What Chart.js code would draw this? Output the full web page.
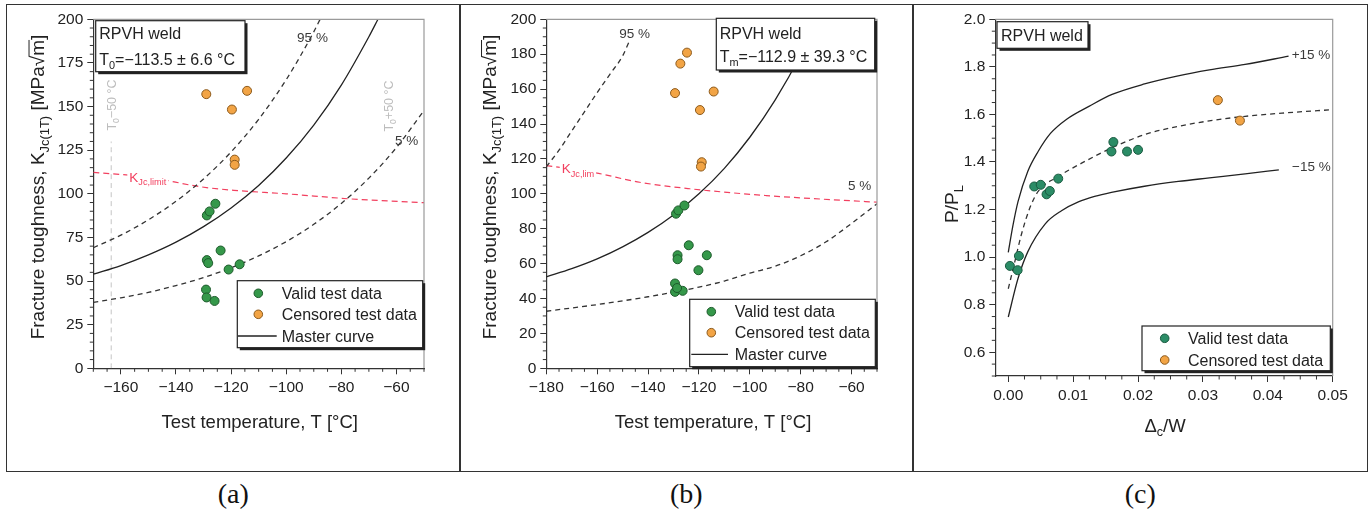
<!DOCTYPE html>
<html>
<head>
<meta charset="utf-8">
<script src="https://cdn.jsdelivr.net/npm/chart.js@4.4.1/dist/chart.umd.min.js"></script>
<style>
  html, body { margin:0; padding:0; background:#fff; }
  body { width:1370px; height:514px; position:relative; overflow:hidden; }
  .frame { position:absolute; left:6px; top:4px; width:1362px; height:468px; border:1.6px solid #333; box-sizing:border-box; }
  .divider { position:absolute; top:4px; height:468px; width:1.6px; background:#333; }
  canvas { position:absolute; }
  .cap { position:absolute; top:476px; width:120px; text-align:center; font-family:"Liberation Serif","Times New Roman",serif; font-size:28px; line-height:36px; color:#111; }
</style>
</head>
<body>
<div class="frame"></div>
<div class="divider" style="left:459px"></div>
<div class="divider" style="left:912.4px"></div>
<canvas id="ca" width="451" height="463" style="left:8px;top:6px"></canvas>
<canvas id="cb" width="451" height="463" style="left:461px;top:6px"></canvas>
<canvas id="cc" width="451" height="463" style="left:914px;top:6px"></canvas>
<div class="cap" id="capA" style="left:173.3px"></div>
<div class="cap" id="capB" style="left:626.3px"></div>
<div class="cap" id="capC" style="left:1080.3px"></div>
<script>
// ================= DATA =================
// ---- Panel (a): Master curve, T0 = -113.5 °C ----
const tempTicksA = [-160, -140, -120, -100, -80, -60];
const kTicksA = [0, 25, 50, 75, 100, 125, 150, 175, 200];
const validTempA = [-128.8, -127.8, -125.7, -123.8, -128.8, -128.3, -120.9, -116.9, -129.1, -128.9, -126.0];
const validKA    = [87.6, 89.9, 94.3, 67.5, 62.0, 60.3, 56.6, 59.6, 45.1, 40.6, 38.6];
const censTempA  = [-129.0, -119.7, -114.2, -118.7, -118.7];
const censKA     = [157.1, 148.3, 159.0, 119.6, 116.6];
const masterTempA = [-170, -160, -150, -140, -130, -120, -110, -100, -90, -80, -70, -66.7];
const masterKA    = [53.9, 58.9, 65.0, 72.3, 81.2, 91.9, 104.8, 120.5, 139.4, 162.3, 190.0, 200];
const p95TempA = [-170, -160, -150, -140, -130, -120, -110, -100, -90, -87.7];
const p95KA    = [69.1, 76.3, 85.1, 95.7, 108.5, 124.0, 142.7, 165.4, 192.8, 200];
const p5TempA  = [-170, -160, -150, -140, -130, -120, -110, -100, -90, -80, -70, -60, -50];
const p5KA     = [37.8, 40.4, 43.5, 47.4, 52.0, 57.6, 64.4, 72.6, 82.5, 94.5, 109.0, 126.5, 147.7];
const limTempA = [-170, -150, -131, -119, -100, -77, -50];
const limKA    = [112.3, 109.5, 104.0, 102.0, 100.0, 97.1, 94.9];
const t0Minus50A = [-163.5, -163.5];
const t0LineKA   = [0, 130];

// ---- Panel (b): Tm = -112.9 °C ----
const tempTicksB = [-180, -160, -140, -120, -100, -80, -60];
const kTicksB = [0, 20, 40, 60, 80, 100, 120, 140, 160, 180, 200];
const validTempB = [-129.0, -128.1, -125.7, -124.0, -128.4, -128.4, -116.9, -120.2, -129.4, -129.4, -126.4, -128.6];
const validKB    = [88.6, 90.5, 93.3, 70.5, 64.8, 62.5, 64.8, 56.2, 48.6, 43.8, 44.4, 46.0];
const censTempB  = [-124.7, -127.3, -129.4, -114.2, -119.6, -118.9, -119.2];
const censKB     = [180.9, 174.6, 157.7, 158.6, 148.0, 118.1, 115.6];
const masterTempB = [-180, -170, -160, -150, -140, -130, -120, -110, -100, -90, -80, -73.5];
const masterKB    = [52.4, 57.1, 62.7, 69.6, 77.9, 87.9, 100.0, 114.6, 132.4, 153.8, 179.7, 200];
const p95TempB = [-180, -175, -170, -165, -160, -155, -150, -147.5];
const p95KB    = [115.5, 125.0, 136.0, 147.0, 158.0, 168.5, 179.0, 187.0];
const p5TempB  = [-180, -160, -140, -120, -110, -100, -90, -80, -70, -60, -50];
const p5KB     = [32.7, 36.5, 41.0, 46.5, 50.0, 54.5, 58.5, 64.5, 72.5, 83.0, 94.3];
const limTempB = [-180, -161.6, -143.3, -123.6, -93.6, -67.5, -50];
const limKB    = [116.2, 112.3, 106.6, 102.9, 99.0, 96.6, 95.2];

// ---- Panel (c): P/PL vs Δc/W ----
const dTicksC = [0, 0.01, 0.02, 0.03, 0.04, 0.05];
const pTicksC = [0.6, 0.8, 1.0, 1.2, 1.4, 1.6, 1.8, 2.0];
const validDC = [0.00025, 0.00144, 0.00164, 0.0040, 0.0050, 0.0059, 0.0064, 0.0077, 0.0159, 0.0162, 0.0183, 0.0200];
const validPC = [0.963, 0.945, 1.005, 1.297, 1.304, 1.264, 1.278, 1.330, 1.444, 1.484, 1.444, 1.451];
const censDC  = [0.0323, 0.0357];
const censPC  = [1.660, 1.574];
const upperDC = [0, 0.0007, 0.0015, 0.003, 0.0046, 0.0065, 0.009, 0.0125, 0.016, 0.021, 0.026, 0.031, 0.0365, 0.0432];
const upperPC = [1.02, 1.13, 1.233, 1.36, 1.444, 1.52, 1.58, 1.635, 1.684, 1.728, 1.761, 1.787, 1.81, 1.845];
const midDC   = [0, 0.001, 0.002, 0.0033, 0.0046, 0.0077, 0.0113, 0.016, 0.021, 0.0262, 0.0315, 0.0365, 0.043, 0.05];
const midPC   = [0.867, 0.98, 1.093, 1.205, 1.276, 1.339, 1.395, 1.46, 1.515, 1.55, 1.575, 1.592, 1.607, 1.62];
const lowerDC = [0, 0.0015, 0.003, 0.0057, 0.0082, 0.0108, 0.0133, 0.0159, 0.021, 0.0262, 0.031, 0.0365, 0.0417];
const lowerPC = [0.748, 0.91, 1.022, 1.14, 1.195, 1.232, 1.255, 1.272, 1.298, 1.318, 1.333, 1.35, 1.367];

const legendLabels = ['Valid test data', 'Censored test data', 'Master curve'];
const captions = ['(a)', '(b)', '(c)'];

// ================= HELPERS =================
const FAM = '"Liberation Sans", Arial, Helvetica, sans-serif';
const xy = (xs, ys) => xs.map((x, i) => ({ x: x, y: ys[i] }));
const minusFmt = v => (v < 0 ? '\u2212' + Math.abs(v) : String(v));

const GREEN = '#35984a', GREEN_E = '#1d5a2b';
const TEAL = '#2b8c66', TEAL_E = '#1a5a40';
const ORANGE = '#f2a445', ORANGE_E = '#8c5a1c';
const RED = '#f2405f';

function axis(min, max, ticks, fmt, size) {
  return {
    type: 'linear', min: min, max: max,
    afterBuildTicks: s => { s.ticks = ticks.map(v => ({ value: v })); },
    ticks: { autoSkip: false, maxRotation: 0, padding: 4, color: '#222', font: { family: FAM, size: 15.5 }, callback: fmt },
    grid: { drawOnChartArea: false, drawTicks: true, tickLength: 6, color: '#333', lineWidth: 1 },
    border: { display: true, color: '#333', width: 1.2 },
    afterFit: s => { if (s.isHorizontal()) s.height = size; else s.width = size; }
  };
}
const pts = (data, fill, edge) => ({ type: 'scatter', data: data, pointRadius: 4.5, pointHoverRadius: 4.5,
  backgroundColor: fill, borderColor: edge, borderWidth: 1, showLine: false, order: 0 });
const curve = (data, color, dash, w) => ({ type: 'line', data: data, borderColor: color, borderWidth: w || 1.3,
  borderDash: dash || [], pointRadius: 0, fill: false, cubicInterpolationMode: 'monotone', order: 1 });

function richParts(ctx, segs, size) {
  let w = 0;
  const parts = segs.map(s => {
    const fs = s[1] === 1 ? size * 0.68 : size;
    ctx.font = fs + 'px ' + FAM;
    const pw = ctx.measureText(s[0]).width;
    const p = { t: s[0], m: s[1], fs: fs, pw: pw, x: w };
    w += pw;
    return p;
  });
  return { parts: parts, w: w };
}
function rich(ctx, t, ox, oy) {
  ctx.save();
  ctx.translate(t.x - ox, t.y - oy);
  if (t.rot) ctx.rotate(t.rot);
  const r = richParts(ctx, t.segs, t.size);
  const x0 = t.align === 'center' ? -r.w / 2 : (t.align === 'right' ? -r.w : 0);
  if (t.bg) { ctx.fillStyle = t.bg; ctx.fillRect(x0 - 2, -t.size * 0.6, r.w + 4, t.size * 1.25); }
  ctx.fillStyle = t.color || '#222'; ctx.strokeStyle = t.color || '#222';
  ctx.textBaseline = 'alphabetic'; ctx.textAlign = 'left';
  const base = t.size * 0.36;
  r.parts.forEach(p => {
    ctx.font = p.fs + 'px ' + FAM;
    const dy = p.m === 1 ? base + t.size * 0.25 : base;
    ctx.fillText(p.t, x0 + p.x, dy);
    if (p.m === 2) {
      ctx.lineWidth = 1; ctx.beginPath();
      ctx.moveTo(x0 + p.x - 1, base - t.size * 0.78); ctx.lineTo(x0 + p.x + p.pw, base - t.size * 0.78); ctx.stroke();
    }
  });
  ctx.restore();
}
function shadowBox(ctx, x1, y1, x2, y2) {
  ctx.fillStyle = '#222'; ctx.fillRect(x1 + 2.5, y1 + 2.5, x2 - x1, y2 - y1);
  ctx.fillStyle = '#fff'; ctx.fillRect(x1, y1, x2 - x1, y2 - y1);
  ctx.strokeStyle = '#222'; ctx.lineWidth = 1.2; ctx.strokeRect(x1, y1, x2 - x1, y2 - y1);
}
function minorTicks(ctx, chart, id, step, majorEvery) {
  const s = chart.scales[id], ca = chart.chartArea;
  const n0 = Math.ceil(s.min / step - 1e-9), n1 = Math.floor(s.max / step + 1e-9);
  ctx.strokeStyle = '#333'; ctx.lineWidth = 1;
  ctx.beginPath();
  for (let n = n0; n <= n1; n++) {
    if (n % majorEvery === 0) continue;
    const p = s.getPixelForValue(n * step);
    if (s.isHorizontal()) { ctx.moveTo(p, ca.bottom); ctx.lineTo(p, ca.bottom + 3.5); }
    else { ctx.moveTo(ca.left, p); ctx.lineTo(ca.left - 3.5, p); }
  }
  ctx.stroke();
}

const deco = {
  id: 'deco',
  afterDraw(chart, _a, o) {
    const ctx = chart.ctx, ca = chart.chartArea;
    ctx.save();
    // light frame on top / right
    ctx.strokeStyle = '#9a9a9a'; ctx.lineWidth = 1.2;
    ctx.beginPath(); ctx.moveTo(ca.left, ca.top); ctx.lineTo(ca.right, ca.top); ctx.lineTo(ca.right, ca.bottom); ctx.stroke();
    minorTicks(ctx, chart, 'x', o.minorX[0], o.minorX[1]);
    minorTicks(ctx, chart, 'y', o.minorY[0], o.minorY[1]);
    o.texts.forEach(t => rich(ctx, t, o.ox, o.oy));
    // info box
    const b = o.box;
    shadowBox(ctx, b.x1 - o.ox, b.y1 - o.oy, b.x2 - o.ox, b.y2 - o.oy);
    b.lines.forEach(t => rich(ctx, Object.assign({ size: 16, color: '#222', align: 'left' }, t), o.ox, o.oy));
    // legend
    const L = o.legend;
    shadowBox(ctx, L.x1 - o.ox, L.y1 - o.oy, L.x2 - o.ox, L.y2 - o.oy);
    L.rows.forEach(r => {
      if (r.kind === 'pt') {
        ctx.beginPath(); ctx.arc(L.mx - o.ox, r.y - o.oy, 4.3, 0, Math.PI * 2);
        ctx.fillStyle = r.fill; ctx.fill(); ctx.lineWidth = 1; ctx.strokeStyle = r.edge; ctx.stroke();
      } else {
        ctx.beginPath(); ctx.moveTo(L.lx1 - o.ox, r.y - o.oy); ctx.lineTo(L.lx2 - o.ox, r.y - o.oy);
        ctx.lineWidth = 1.3; ctx.strokeStyle = '#222'; ctx.stroke();
      }
      rich(ctx, { segs: [[r.label, 0]], x: L.tx, y: r.y, size: 16, color: '#222', align: 'left' }, o.ox, o.oy);
    });
    ctx.restore();
  }
};

function baseOptions(xAxis, yAxis, pad, decoOpts) {
  return {
    responsive: false, animation: false, devicePixelRatio: 1, events: [],
    layout: { padding: pad },
    scales: { x: xAxis, y: yAxis },
    plugins: { legend: { display: false }, tooltip: { enabled: false }, deco: decoOpts }
  };
}

// ================= PANEL (a) =================
new Chart(document.getElementById('ca'), {
  type: 'scatter',
  data: { datasets: [
    pts(xy(validTempA, validKA), GREEN, GREEN_E),
    pts(xy(censTempA, censKA), ORANGE, ORANGE_E),
    curve(xy(masterTempA, masterKA), '#222', [], 1.3),
    curve(xy(p95TempA, p95KA), '#333', [5, 4], 1.3),
    curve(xy(p5TempA, p5KA), '#333', [5, 4], 1.3),
    curve(xy(limTempA, limKA), RED, [6, 4], 1.2),
    curve(xy(t0Minus50A, t0LineKA), '#c4c4c4', [5, 4], 1)
  ] },
  options: baseOptions(
    axis(-170, -50, tempTicksA, minusFmt, 100.7),
    axis(0, 200, kTicksA, v => String(v), 85.3),
    { left: 0, top: 12.3, right: 35, bottom: 0 },
    {
      ox: 8, oy: 6, minorX: [5, 4], minorY: [5, 5],
      texts: [
        { segs: [['95 %', 0]], x: 312.5, y: 36.7, size: 13.5, color: '#3a3a3a', align: 'center' },
        { segs: [['5 %', 0]], x: 406.7, y: 140, size: 13.5, color: '#3a3a3a', align: 'center' },
        { segs: [['K', 0], ['Jc,limit', 1]], x: 129.3, y: 176.7, size: 13.5, color: RED, align: 'left', bg: '#fff' },
        { segs: [['T', 0], ['0', 1], ['\u221250 \u00b0C', 0]], x: 111.5, y: 105, size: 12.5, color: '#bdbdbd', align: 'center', rot: -Math.PI / 2 },
        { segs: [['T', 0], ['0', 1], ['+50 \u00b0C', 0]], x: 388.3, y: 106, size: 12.5, color: '#bdbdbd', align: 'center', rot: -Math.PI / 2 },
        { segs: [['Fracture toughness, K', 0], ['Jc(1T)', 1], [' [MPa\u221a', 0], ['m', 2], [']', 0]], x: 37, y: 187, size: 19, color: '#222', align: 'center', rot: -Math.PI / 2 },
        { segs: [['Test temperature, T [\u00b0C]', 0]], x: 259.7, y: 421.7, size: 18.5, color: '#222', align: 'center' }
      ],
      box: { x1: 95.7, y1: 20.7, x2: 245, y2: 71.7, lines: [
        { segs: [['RPVH weld', 0]], x: 99.3, y: 33.3 },
        { segs: [['T', 0], ['0', 1], ['=\u2212113.5 \u00b1 6.6 \u00b0C', 0]], x: 99.3, y: 59.3 }
      ] },
      legend: { x1: 237.3, y1: 280.7, x2: 422.7, y2: 347.7, mx: 258.3, tx: 281.7, lx1: 238, lx2: 276.7, rows: [
        { kind: 'pt', y: 293.3, fill: GREEN, edge: GREEN_E, label: legendLabels[0] },
        { kind: 'pt', y: 314.3, fill: ORANGE, edge: ORANGE_E, label: legendLabels[1] },
        { kind: 'line', y: 336, label: legendLabels[2] }
      ] }
    }
  ),
  plugins: [deco]
});

// ================= PANEL (b) =================
new Chart(document.getElementById('cb'), {
  type: 'scatter',
  data: { datasets: [
    pts(xy(validTempB, validKB), GREEN, GREEN_E),
    pts(xy(censTempB, censKB), ORANGE, ORANGE_E),
    curve(xy(masterTempB, masterKB), '#222', [], 1.3),
    curve(xy(p95TempB, p95KB), '#333', [5, 4], 1.3),
    curve(xy(p5TempB, p5KB), '#333', [5, 4], 1.3),
    curve(xy(limTempB, limKB), RED, [6, 4], 1.2)
  ] },
  options: baseOptions(
    axis(-180, -50, tempTicksB, minusFmt, 100.7),
    axis(0, 200, kTicksB, v => String(v), 85.3),
    { left: 0, top: 12.3, right: 35, bottom: 0 },
    {
      ox: 461, oy: 6, minorX: [5, 4], minorY: [5, 4],
      texts: [
        { segs: [['95 %', 0]], x: 634.7, y: 33.3, size: 13.5, color: '#3a3a3a', align: 'center' },
        { segs: [['5 %', 0]], x: 859.7, y: 185, size: 13.5, color: '#3a3a3a', align: 'center' },
        { segs: [['K', 0], ['Jc,lim', 1]], x: 561.7, y: 168.3, size: 13.5, color: RED, align: 'left', bg: '#fff' },
        { segs: [['Fracture toughness, K', 0], ['Jc(1T)', 1], [' [MPa\u221a', 0], ['m', 2], [']', 0]], x: 489.5, y: 187, size: 19, color: '#222', align: 'center', rot: -Math.PI / 2 },
        { segs: [['Test temperature, T [\u00b0C]', 0]], x: 713, y: 421.7, size: 18.5, color: '#222', align: 'center' }
      ],
      box: { x1: 716.3, y1: 18.3, x2: 874.7, y2: 70, lines: [
        { segs: [['RPVH weld', 0]], x: 719.7, y: 33.3 },
        { segs: [['T', 0], ['m', 1], ['=\u2212112.9 \u00b1 39.3 \u00b0C', 0]], x: 719.7, y: 56.7 }
      ] },
      legend: { x1: 689.7, y1: 299.3, x2: 875.3, y2: 366.7, mx: 711.3, tx: 734.7, lx1: 691.3, lx2: 728, rows: [
        { kind: 'pt', y: 311.7, fill: GREEN, edge: GREEN_E, label: legendLabels[0] },
        { kind: 'pt', y: 332.7, fill: ORANGE, edge: ORANGE_E, label: legendLabels[1] },
        { kind: 'line', y: 354.3, label: legendLabels[2] }
      ] }
    }
  ),
  plugins: [deco]
});

// ================= PANEL (c) =================
new Chart(document.getElementById('cc'), {
  type: 'scatter',
  data: { datasets: [
    pts(xy(validDC, validPC), TEAL, TEAL_E),
    pts(xy(censDC, censPC), ORANGE, ORANGE_E),
    curve(xy(upperDC, upperPC), '#222', [], 1.3),
    curve(xy(midDC, midPC), '#333', [5, 4], 1.3),
    curve(xy(lowerDC, lowerPC), '#222', [], 1.3)
  ] },
  options: baseOptions(
    axis(-0.002, 0.05, dTicksC, v => v.toFixed(2), 93),
    axis(0.5, 2.0, pTicksC, v => v.toFixed(1), 81.3),
    { left: 0, top: 12.3, right: 32.3, bottom: 0 },
    {
      ox: 914, oy: 6, minorX: [0.0025, 4], minorY: [0.05, 4],
      texts: [
        { segs: [['+15 %', 0]], x: 1291.7, y: 54, size: 13.5, color: '#3a3a3a', align: 'left' },
        { segs: [['\u221215 %', 0]], x: 1292, y: 166, size: 13.5, color: '#3a3a3a', align: 'left' },
        { segs: [['P/P', 0], ['L', 1]], x: 951, y: 204, size: 19, color: '#222', align: 'center', rot: -Math.PI / 2 },
        { segs: [['\u0394', 0], ['c', 1], ['/W', 0]], x: 1165, y: 425, size: 18.5, color: '#222', align: 'center' }
      ],
      box: { x1: 997, y1: 21.7, x2: 1088, y2: 48.3, lines: [
        { segs: [['RPVH weld', 0]], x: 1001, y: 35 }
      ] },
      legend: { x1: 1142, y1: 326, x2: 1330.3, y2: 370.7, mx: 1164.7, tx: 1188, lx1: 0, lx2: 0, rows: [
        { kind: 'pt', y: 338.3, fill: TEAL, edge: TEAL_E, label: legendLabels[0] },
        { kind: 'pt', y: 360, fill: ORANGE, edge: ORANGE_E, label: legendLabels[1] }
      ] }
    }
  ),
  plugins: [deco]
});

document.getElementById('capA').textContent = captions[0];
document.getElementById('capB').textContent = captions[1];
document.getElementById('capC').textContent = captions[2];
</script>
</body>
</html>
